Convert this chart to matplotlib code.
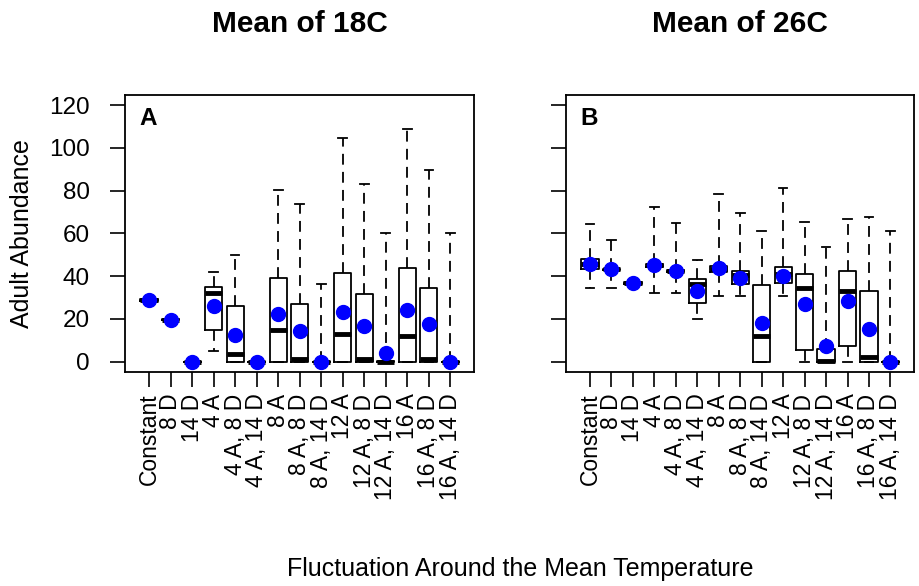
import matplotlib
matplotlib.use("Agg")
import matplotlib.pyplot as plt

plt.rcParams["font.family"] = ["Liberation Sans", "DejaVu Sans"]

LABELS = ["Constant", "8 D", "14 D", "4 A", "4 A, 8 D", "4 A, 14 D",
          "8 A", "8 A, 8 D", "8 A, 14 D", "12 A", "12 A, 8 D", "12 A, 14 D",
          "16 A", "16 A, 8 D", "16 A, 14 D"]

# panel A: mean of 18C
A_lo = [28.3, 19.3, 0, 5.2, 0, 0, 0, 0, 0, 0, 0, 0, 0, 0, 0]
A_q1 = [28.3, 19.3, 0, 14.7, 0, 0, 0, 0, 0, 0, 0, 0, 0, 0, 0]
A_med = [28.8, 19.6, 0, 32.1, 3.4, 0, 15.0, 1.1, 0, 13.0, 1.1, 0, 12.2, 1.1, 0]
A_q3 = [29.3, 19.9, 0, 34.9, 26.0, 0, 39.0, 26.9, 0, 41.5, 31.8, 0.5, 43.7, 34.6, 0]
A_hi = [29.3, 19.9, 0, 41.8, 49.9, 0, 80.3, 73.9, 36.5, 104.7, 83.1, 60.4, 109.0, 89.7, 60.4]
A_mean = [28.8, 19.6, 0, 26.0, 12.7, 0, 22.2, 14.6, 0, 23.2, 16.9, 4.1, 24.4, 17.8, 0]

# panel B: mean of 26C
B_lo = [34.7, 34.7, 36.5, 32.2, 32.2, 20.2, 30.7, 30.7, 0, 30.7, 0, 0, 0, 0, 0]
B_q1 = [43.2, 42.8, 36.5, 44.5, 41.8, 27.5, 42.0, 36.5, 0, 36.8, 5.3, 0, 7.2, 0, 0]
B_med = [45.9, 43.2, 36.8, 45.2, 42.4, 36.2, 43.5, 40.7, 11.9, 41.2, 34.7, 0.2, 33.3, 2.3, 0]
B_q3 = [48.2, 43.6, 37.1, 45.9, 43.0, 38.7, 45.0, 42.6, 35.8, 44.4, 41.0, 6.1, 42.3, 33.2, 0]
B_hi = [64.6, 56.8, 37.1, 72.3, 64.9, 47.7, 78.4, 69.5, 61.3, 81.4, 65.4, 53.7, 66.8, 67.9, 61.3]
B_mean = [45.9, 43.2, 36.8, 45.4, 42.4, 33.0, 43.8, 39.3, 18.0, 40.1, 27.2, 7.5, 28.3, 15.5, 0]


def draw_panel(ax, lo, q1, med, q3, hi, mean, letter, title, show_ylabels):
    stats = []
    for i in range(len(LABELS)):
        stats.append({"whislo": lo[i], "q1": q1[i], "med": med[i],
                      "q3": q3[i], "whishi": hi[i], "fliers": []})
    pos = list(range(1, len(LABELS) + 1))
    ax.bxp(stats, positions=pos, widths=0.8, showfliers=False,
           boxprops=dict(color="black", linewidth=1.3),
           medianprops=dict(color="black", linewidth=3.5, solid_capstyle="butt"),
           whiskerprops=dict(color="black", linewidth=1.3, linestyle=(0, (6, 4))),
           capprops=dict(color="black", linewidth=1.3), capwidths=0.4)
    ax.plot(pos, mean, "o", color="#0000ff", markersize=10, zorder=5)
    ax.set_xlim(-0.12, 16.1)
    ax.set_ylim(-4.8, 124.8)
    ax.set_xticks(pos)
    ax.set_xticklabels(LABELS, rotation=90, fontsize=16.5)
    ax.set_yticks([0, 20, 40, 60, 80, 100, 120])
    if show_ylabels:
        ax.tick_params(axis="y", labelsize=17.5)
    else:
        ax.set_yticklabels([])
    ax.tick_params(length=10.5, width=1.2)
    ax.tick_params(axis="x", pad=5)
    ax.tick_params(axis="y", pad=15)
    for s in ax.spines.values():
        s.set_linewidth(1.3)
    ax.text(0.04, 0.955, letter, transform=ax.transAxes, fontsize=17.5,
            fontweight="bold", va="top", ha="left")
    ax.set_title(title, fontsize=21.5, fontweight="bold", pad=45)


fig = plt.figure(figsize=(9.19, 5.86), dpi=100)
ax1 = fig.add_axes([0.136, 0.3652, 0.3798, 0.4727])
ax2 = fig.add_axes([0.6159, 0.3652, 0.3787, 0.4727])

draw_panel(ax1, A_lo, A_q1, A_med, A_q3, A_hi, A_mean, "A", "Mean of 18C", True)
draw_panel(ax2, B_lo, B_q1, B_med, B_q3, B_hi, B_mean, "B", "Mean of 26C", False)

ax1.set_ylabel("Adult Abundance", fontsize=18)
ax1.yaxis.set_label_coords(-0.262, 0.5)
fig.text(0.566, 0.029, "Fluctuation Around the Mean Temperature",
         fontsize=18, ha="center", va="center")

fig.savefig("out.png", dpi=100)
